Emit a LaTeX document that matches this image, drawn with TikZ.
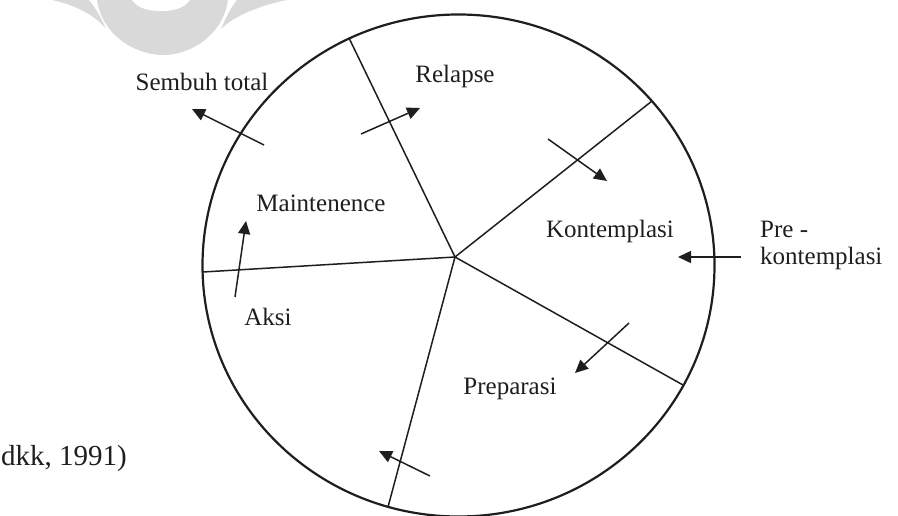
\documentclass[tikz,border=0pt]{standalone}
\usepackage{fontspec}
\setmainfont{Liberation Serif}
\usetikzlibrary{arrows.meta}
\definecolor{wm}{RGB}{217,217,217}
\definecolor{ink}{RGB}{30,30,30}
\begin{document}
\begin{tikzpicture}[x=1pt,y=-1pt,
  lbl/.style={inner sep=0pt, font=\fontsize{25}{28}\selectfont, text=ink},
  spoke/.style={draw=ink, line width=1.5pt},
  rim/.style={draw=ink, line width=2.2pt},
  flow/.style={draw=ink, line width=1.5pt, -{Triangle[length=13pt,width=12pt]}},
  wmark/.style={fill=wm, draw=none}
]
\useasboundingbox (0,0) rectangle (898,516);
\clip (0,0) rectangle (898,516);

% watermark
\fill[wmark] (97,0) .. controls (102,35) and (135,55) .. (163,55) .. controls (191,55) and (223,35) .. (228,0) -- cycle;
\fill[white] (132,0) .. controls (138,9) and (150,11) .. (161,11) .. controls (172,11) and (184,9) .. (190,0) -- cycle;
\fill[wmark] (52,0) .. controls (75,5) and (95,15) .. (106,29) .. controls (100,15) and (94,6) .. (89,0) -- cycle;
\fill[wmark] (287,0) .. controls (262,5) and (235,15) .. (221,29) .. controls (227,15) and (232,6) .. (237,0) -- cycle;

% wheel
\draw[rim] (458.5,265.5) ellipse [x radius=256pt, y radius=251pt];
\coordinate (hub) at (455,257);
\coordinate (e1) at (349,38);
\coordinate (e2) at (652,101);
\coordinate (e3) at (683,385);
\coordinate (e4) at (388,507);
\coordinate (e5) at (203,272);
\foreach \e in {e1,e2,e3,e4,e5} \draw[spoke] (hub) -- (\e);

% labels
\node[lbl, anchor=base] (sembuh) at (202,91) {Sembuh total};
\node[lbl, anchor=base] (relapse) at (455,83) {Relapse};
\node[lbl, anchor=base] (maint) at (321,212) {Maintenence};
\node[lbl, anchor=base] (kontem) at (610,238) {Kontemplasi};
\node[lbl, anchor=base west] (pre1) at (760,237) {Pre -};
\node[lbl, anchor=base west] (pre2) at (760,265) {kontemplasi};
\node[lbl, anchor=base] (aksi) at (268,325) {Aksi};
\node[lbl, anchor=base] (prep) at (510,394) {Preparasi};
\node[lbl, anchor=base east, font=\fontsize{29}{32}\selectfont] (cite) at (127,465) {dkk, 1991)};

% arrows
\coordinate (s0) at (264,145); \coordinate (s1) at (192,109);
\coordinate (r0) at (361,134); \coordinate (r1) at (420,108);
\coordinate (k0) at (548,139); \coordinate (k1) at (607,181);
\coordinate (p0) at (741,257); \coordinate (p1) at (678,257);
\coordinate (q0) at (629,323); \coordinate (q1) at (575,373);
\coordinate (b0) at (430,476); \coordinate (b1) at (379,451);
\coordinate (a0) at (235,297); \coordinate (a1) at (246,221);
\draw[flow] (s0) -- (s1);
\draw[flow] (r0) -- (r1);
\draw[flow] (k0) -- (k1);
\draw[flow] (p0) -- (p1);
\draw[flow] (q0) -- (q1);
\draw[flow] (b0) -- (b1);
\draw[flow] (a0) -- (a1);
\end{tikzpicture}
\end{document}
